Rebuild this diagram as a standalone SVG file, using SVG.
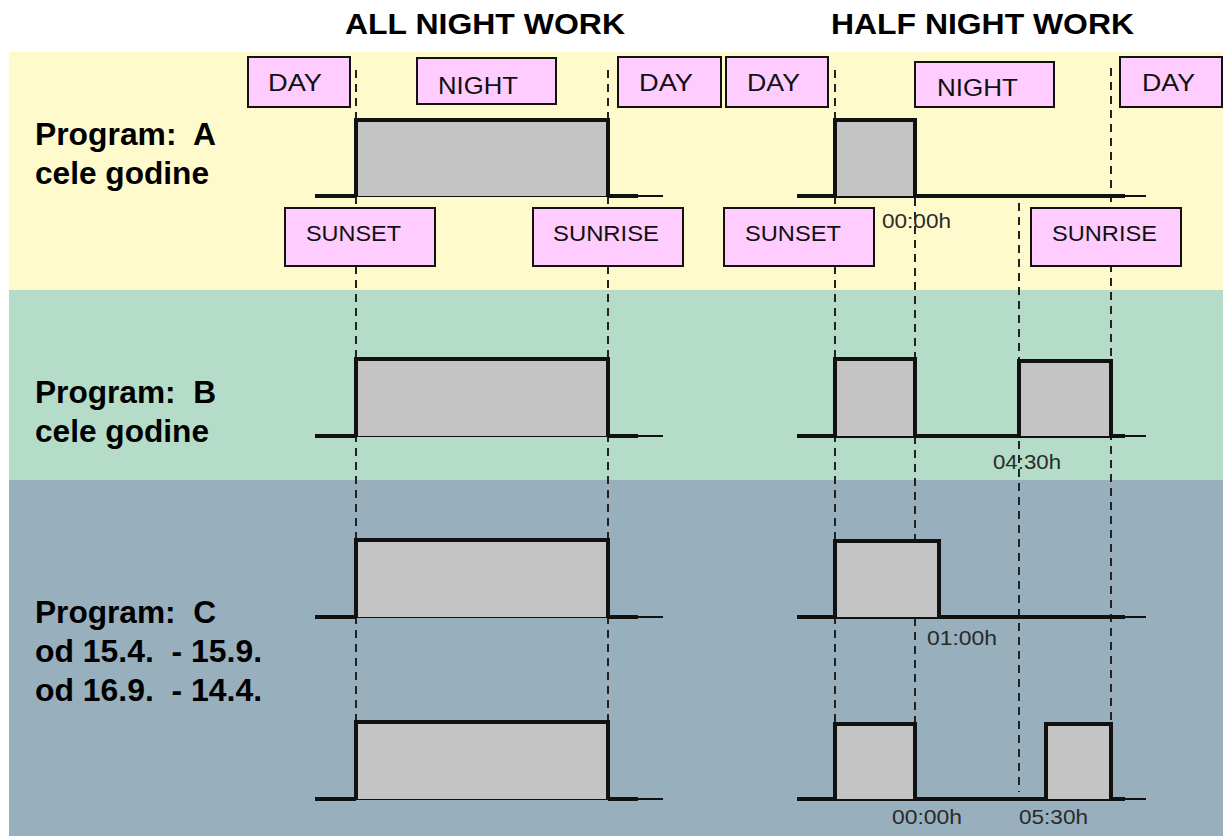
<svg xmlns="http://www.w3.org/2000/svg" width="1223" height="836" viewBox="0 0 1223 836">
<style>
.title{font-family:"Liberation Sans",Arial,sans-serif;font-weight:bold;font-size:30px;fill:#000}
.prog{font-family:"Liberation Sans",Arial,sans-serif;font-weight:bold;font-size:31px;fill:#000}
.box{fill:#FFCCFF;stroke:#111;stroke-width:2}
.bt{font-family:"Liberation Sans",Arial,sans-serif;font-size:24px;fill:#111}
.bs{font-family:"Liberation Sans",Arial,sans-serif;font-size:22px;fill:#111}
.time{font-family:"Liberation Sans",Arial,sans-serif;font-size:20px;fill:#2a2a2a}
.dash{stroke:#222;stroke-width:2;stroke-dasharray:8 6;fill:none}
.pulse{fill:#C4C4C4;stroke:#111;stroke-width:4;stroke-linejoin:miter}
.base{stroke:#111;stroke-width:4;fill:none}
.thin{stroke:#111;stroke-width:2;fill:none}
</style>
<rect x="0" y="0" width="1223" height="836" fill="#fff"/>
<rect x="9" y="52" width="1214" height="238" fill="#FFFACC"/>
<rect x="9" y="290" width="1214" height="190" fill="#B4DCC8"/>
<rect x="9" y="480" width="1214" height="356" fill="#98AFBE"/>

<text class="title" x="345" y="34" textLength="280" lengthAdjust="spacingAndGlyphs">ALL NIGHT WORK</text>
<text class="title" x="831" y="34" textLength="303" lengthAdjust="spacingAndGlyphs">HALF NIGHT WORK</text>

<g id="labels">
<text class="prog" x="35" y="145" xml:space="preserve" textLength="181" lengthAdjust="spacingAndGlyphs">Program:  A</text>
<text class="prog" x="35" y="184" textLength="174" lengthAdjust="spacingAndGlyphs">cele godine</text>
<text class="prog" x="35" y="403" xml:space="preserve" textLength="181" lengthAdjust="spacingAndGlyphs">Program:  B</text>
<text class="prog" x="35" y="442" textLength="174" lengthAdjust="spacingAndGlyphs">cele godine</text>
<text class="prog" x="35" y="623" xml:space="preserve" textLength="181" lengthAdjust="spacingAndGlyphs">Program:  C</text>
<text class="prog" x="35" y="662" xml:space="preserve" textLength="227" lengthAdjust="spacingAndGlyphs">od 15.4.  - 15.9.</text>
<text class="prog" x="35" y="701" xml:space="preserve" textLength="227" lengthAdjust="spacingAndGlyphs">od 16.9.  - 14.4.</text>
</g>

<g id="connectors">
<line class="dash" x1="356" y1="70" x2="356" y2="722"/>
<line class="dash" x1="608" y1="70" x2="608" y2="722"/>
<line class="dash" x1="835" y1="70" x2="835" y2="724"/>
<line class="dash" x1="915" y1="198" x2="915" y2="724"/>
<line class="dash" x1="1019" y1="203" x2="1019" y2="792"/>
<line class="dash" x1="1111" y1="68" x2="1111" y2="724"/>
</g>

<g id="signal-A-all">
<path class="thin" d="M315 196 H663"/>
<path class="base" d="M315 196 H356 M608 196 H638"/>
<path class="pulse" d="M356 196 V120 H608 V196"/>
</g>
<g id="signal-A-half">
<path class="base" d="M797 196 H1125"/>
<path class="thin" d="M1125 196 H1146"/>
<path class="pulse" d="M835 196 V120 H915 V196"/>
</g>
<g id="signal-B-all">
<path class="thin" d="M315 436 H663"/>
<path class="base" d="M315 436 H356 M608 436 H638"/>
<path class="pulse" d="M356 436 V359 H608 V436"/>
</g>
<g id="signal-B-half">
<path class="base" d="M797 436 H1125"/>
<path class="thin" d="M1125 436 H1146"/>
<path class="pulse" d="M835 436 V359 H915 V436"/>
<path class="pulse" d="M1019 436 V361 H1111 V436"/>
</g>
<g id="signal-C1-all">
<path class="thin" d="M315 617 H663"/>
<path class="base" d="M315 617 H356 M608 617 H638"/>
<path class="pulse" d="M356 617 V540 H608 V617"/>
</g>
<g id="signal-C1-half">
<path class="base" d="M797 617 H1125"/>
<path class="thin" d="M1125 617 H1146"/>
<path class="pulse" d="M835 617 V541 H939 V617"/>
</g>
<g id="signal-C2-all">
<path class="thin" d="M315 799 H663"/>
<path class="base" d="M315 799 H356 M608 799 H638"/>
<path class="pulse" d="M356 799 V722 H608 V799"/>
</g>
<g id="signal-C2-half">
<path class="base" d="M797 799 H1125"/>
<path class="thin" d="M1125 799 H1146"/>
<path class="pulse" d="M835 799 V724 H915 V799"/>
<path class="pulse" d="M1046 799 V724 H1111 V799"/>
</g>

<g id="day-1"><rect class="box" x="248" y="57" width="102" height="50"/><text class="bt" x="268" y="91" textLength="54" lengthAdjust="spacingAndGlyphs">DAY</text></g>
<g id="night-1"><rect class="box" x="417" y="58" width="139" height="46"/><text class="bt" x="438" y="94" textLength="80" lengthAdjust="spacingAndGlyphs">NIGHT</text></g>
<g id="day-2"><rect class="box" x="618" y="57" width="103" height="50"/><text class="bt" x="639" y="91" textLength="54" lengthAdjust="spacingAndGlyphs">DAY</text></g>
<g id="sunset-1"><rect class="box" x="285" y="208" width="150" height="58"/><text class="bs" x="306" y="241" textLength="95" lengthAdjust="spacingAndGlyphs">SUNSET</text></g>
<g id="sunrise-1"><rect class="box" x="533" y="208" width="150" height="58"/><text class="bs" x="553" y="241" textLength="106" lengthAdjust="spacingAndGlyphs">SUNRISE</text></g>

<g id="day-3"><rect class="box" x="726" y="57" width="102" height="50"/><text class="bt" x="747" y="91" textLength="53" lengthAdjust="spacingAndGlyphs">DAY</text></g>
<g id="night-2"><rect class="box" x="915" y="62" width="139" height="45"/><text class="bt" x="937" y="96" textLength="81" lengthAdjust="spacingAndGlyphs">NIGHT</text></g>
<g id="day-4"><rect class="box" x="1120" y="57" width="102" height="50"/><text class="bt" x="1142" y="91" textLength="53" lengthAdjust="spacingAndGlyphs">DAY</text></g>
<g id="sunset-2"><rect class="box" x="724" y="208" width="150" height="58"/><text class="bs" x="745" y="241" textLength="96" lengthAdjust="spacingAndGlyphs">SUNSET</text></g>
<g id="sunrise-2"><rect class="box" x="1031" y="208" width="150" height="58"/><text class="bs" x="1052" y="241" textLength="105" lengthAdjust="spacingAndGlyphs">SUNRISE</text></g>

<g id="times">
<text class="time" x="882" y="228" textLength="69" lengthAdjust="spacingAndGlyphs">00:00h</text>
<text class="time" x="993" y="469" textLength="68" lengthAdjust="spacingAndGlyphs">04:30h</text>
<text class="time" x="927" y="645" textLength="70" lengthAdjust="spacingAndGlyphs">01:00h</text>
<text class="time" x="892" y="824" textLength="70" lengthAdjust="spacingAndGlyphs">00:00h</text>
<text class="time" x="1019" y="824" textLength="69" lengthAdjust="spacingAndGlyphs">05:30h</text>
</g>
</svg>
